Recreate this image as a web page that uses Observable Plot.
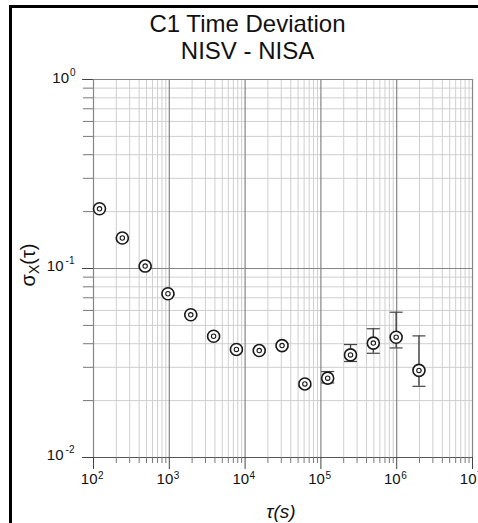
<!DOCTYPE html>
<html><head><meta charset="utf-8">
<script src="https://cdn.jsdelivr.net/npm/d3@7"></script>
<script src="https://cdn.jsdelivr.net/npm/@observablehq/plot@0.6"></script>
<style>
body{margin:0;background:#fff;font-family:"Liberation Sans",Arial,sans-serif;}
#wrap{position:relative;width:478px;height:523px;overflow:hidden;background:#fff;}
#frame{position:absolute;left:9px;top:5px;width:490px;height:540px;border-left:3px solid #000;border-top:3px solid #000;}
.title{position:absolute;left:0;width:495px;text-align:center;font-size:24px;line-height:24px;color:#111;white-space:nowrap;}
#chart{position:absolute;left:0;top:70px;}
#ylab{position:absolute;left:29px;top:265px;transform:translate(-50%,-50%) rotate(-90deg);font-size:20px;white-space:nowrap;color:#111;}
#ylab sub{font-size:14px;vertical-align:-4px;}
#xlab{position:absolute;left:281px;top:502px;transform:translate(-50%,0);font-size:19px;line-height:19px;font-style:italic;white-space:nowrap;color:#111;}
</style></head>
<body>
<div id="wrap">
  <div id="frame"></div>
  <div class="title" style="top:12px">C1 Time Deviation</div>
  <div class="title" style="top:39px">NISV - NISA</div>
  <div id="chart"></div>
  <div id="ylab">σ<sub>X</sub>(τ)</div>
  <div id="xlab">τ(s)</div>
</div>
<script>
// averaging times (s)
const tau = [120, 240, 480, 960, 1920, 3840, 7680, 15360, 30720, 61440, 122880, 245760, 491520, 983040, 1966080];
// time deviation values
const sigma   = [0.207, 0.145, 0.103, 0.0735, 0.0569, 0.0438, 0.0373, 0.0368, 0.0391, 0.0245, 0.0263, 0.0349, 0.0403, 0.0433, 0.0289];
const sigmaLo = [0.204, 0.143, 0.1015, 0.0724, 0.0560, 0.0431, 0.0366, 0.0361, 0.0383, 0.0239, 0.0248, 0.0322, 0.0356, 0.0380, 0.0238];
const sigmaHi = [0.210, 0.147, 0.1045, 0.0746, 0.0578, 0.0445, 0.0380, 0.0375, 0.0399, 0.0251, 0.0285, 0.0396, 0.0480, 0.0587, 0.0440];

// tick labels
const xTickValues = [1e2, 1e3, 1e4, 1e5, 1e6, 1e7];
const xTickExp = ["2", "3", "4", "5", "6", "7"];
const yTickValues = [1, 0.1, 0.01];
const yTickExp = ["0", "-1", "-2"];
const minorMultipliers = [2, 3, 4, 5, 6, 7, 8, 9];

const data = tau.map((t, i) => ({tau: t, s: sigma[i], lo: sigmaLo[i], hi: sigmaHi[i]}));
const xLabels = xTickValues.map((v, i) => ({v, exp: xTickExp[i]}));
const yLabels = yTickValues.map((v, i) => ({v, exp: yTickExp[i]}));
const minorX = xTickValues.slice(0, -1).flatMap(m => minorMultipliers.map(k => k * m));
const minorY = [0.01, 0.1].flatMap(m => minorMultipliers.map(k => k * m));

const cap = {draw(ctx) { ctx.moveTo(-6.5, 0); ctx.lineTo(6.5, 0); }};
const ink = "#1a1a1a";

const chart = Plot.plot({
  width: 478, height: 453,
  marginTop: 9, marginLeft: 93, marginRight: 6, marginBottom: 66,
  x: {type: "log", domain: [100, 1e7]},
  y: {type: "log", domain: [0.01, 1]},
  style: {background: "transparent", fontFamily: "Liberation Sans, Arial, sans-serif", overflow: "visible"},
  marks: [
    Plot.ruleX(minorX, {stroke: "#cfcfcf", strokeWidth: 1}),
    Plot.ruleY(minorY, {stroke: "#cfcfcf", strokeWidth: 1}),
    Plot.ruleX(xTickValues, {stroke: "#858585", strokeWidth: 1.2}),
    Plot.ruleY(yTickValues, {stroke: "#858585", strokeWidth: 1.2}),
    Plot.ruleY([0.01], {stroke: "#555", strokeWidth: 1.2}),
    Plot.axisX({ticks: minorX, tickSize: 6, tickFormat: () => "", label: null, stroke: "#777"}),
    Plot.axisX({ticks: xTickValues, tickSize: 12, tickFormat: () => "", label: null, stroke: "#444"}),
    Plot.axisY({ticks: minorY, tickSize: 10, tickFormat: () => "", label: null, stroke: "#777"}),
    Plot.axisY({ticks: yTickValues, tickSize: 11, tickFormat: () => "", label: null, stroke: "#444"}),
    // x tick labels
    Plot.text(xLabels, {x: "v", frameAnchor: "bottom", dy: 26, dx: 4, text: () => "10", textAnchor: "end", fontSize: 15, fill: "#111"}),
    Plot.text(xLabels, {x: "v", frameAnchor: "bottom", dy: 21, dx: 4.5, text: "exp", textAnchor: "start", fontSize: 10, fill: "#111"}),
    // y tick labels
    Plot.text(yLabels, {y: "v", frameAnchor: "left", dx: -19, dy: -8, text: "exp", textAnchor: "end", fontSize: 10, fill: "#111", filter: d => d.exp.length > 1}),
    Plot.text(yLabels, {y: "v", frameAnchor: "left", dy: -2, dx: -30, text: () => "10", textAnchor: "end", fontSize: 15, fill: "#111", filter: d => d.exp.length > 1}),
    Plot.text(yLabels, {y: "v", frameAnchor: "left", dx: -18, dy: -7, text: "exp", textAnchor: "end", fontSize: 10, fill: "#111", filter: d => d.exp.length === 1}),
    Plot.text(yLabels, {y: "v", frameAnchor: "left", dy: -1, dx: -24.5, text: () => "10", textAnchor: "end", fontSize: 15, fill: "#111", filter: d => d.exp.length === 1}),
    // error bars
    Plot.ruleX(data, {x: "tau", y1: "lo", y2: "hi", stroke: "#444", strokeWidth: 1.4}),
    Plot.dot(data, {x: "tau", y: "hi", symbol: cap, stroke: "#444", strokeWidth: 1.2}),
    Plot.dot(data, {x: "tau", y: "lo", symbol: cap, stroke: "#444", strokeWidth: 1.2}),
    // markers
    Plot.dot(data, {x: "tau", y: "s", r: 6, fill: "white", stroke: ink, strokeWidth: 1.6}),
    Plot.dot(data, {x: "tau", y: "s", r: 2.2, fill: "none", stroke: ink, strokeWidth: 1.1})
  ]
});
document.getElementById("chart").appendChild(chart);
</script>
</body></html>
